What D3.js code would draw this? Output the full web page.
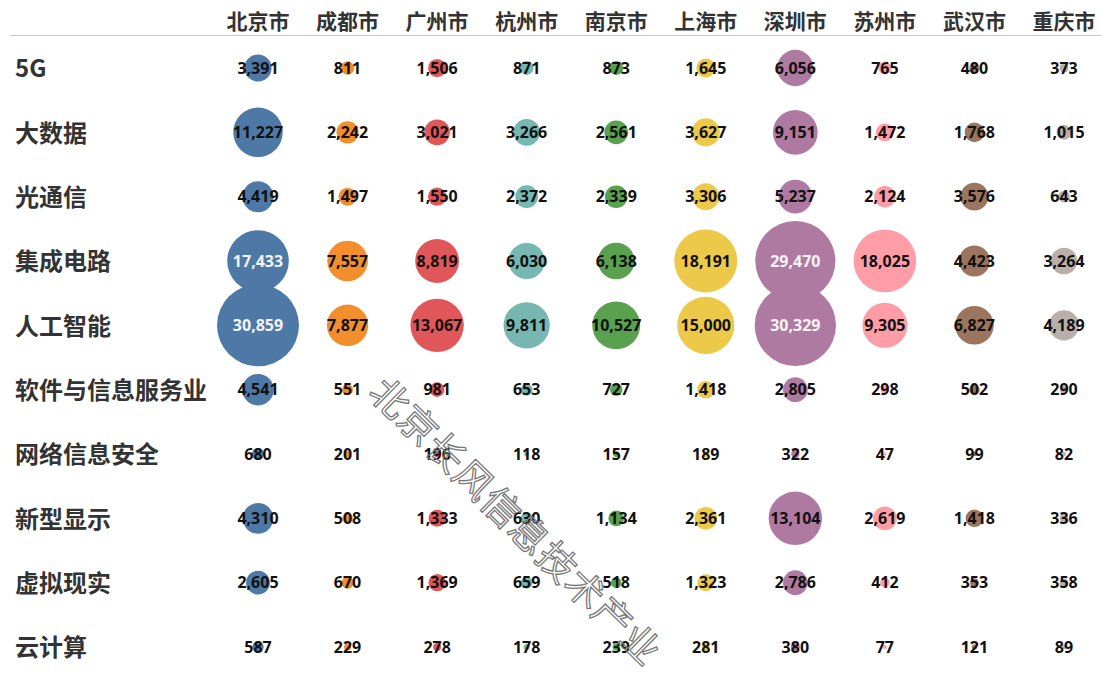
<!DOCTYPE html>
<html>
<head>
<meta charset="utf-8">
<script src="https://cdn.jsdelivr.net/npm/d3@7"></script>
<style>
  body { margin: 0; background: #fff; }
  svg { display: block; }
</style>
</head>
<body>
<div id="chart"></div>
<script>
// cities (columns) and industries (rows)
const cities = ["北京市", "成都市", "广州市", "杭州市", "南京市", "上海市", "深圳市", "苏州市", "武汉市", "重庆市"];
const industries = ["5G", "大数据", "光通信", "集成电路", "人工智能", "软件与信息服务业", "网络信息安全", "新型显示", "虚拟现实", "云计算"];

// one array per city, values in industry order
const beijing   = [3391, 11227, 4419, 17433, 30859, 4541, 680, 4310, 2605, 587];
const chengdu   = [811, 2242, 1497, 7557, 7877, 551, 201, 508, 670, 229];
const guangzhou = [1506, 3021, 1550, 8819, 13067, 981, 196, 1333, 1369, 278];
const hangzhou  = [871, 3266, 2372, 6030, 9811, 653, 118, 630, 659, 178];
const nanjing   = [873, 2561, 2339, 6138, 10527, 727, 157, 1134, 518, 239];
const shanghai  = [1645, 3627, 3306, 18191, 15000, 1418, 189, 2361, 1323, 281];
const shenzhen  = [6056, 9151, 5237, 29470, 30329, 2805, 322, 13104, 2786, 380];
const suzhou    = [765, 1472, 2124, 18025, 9305, 298, 47, 2619, 412, 77];
const wuhan     = [480, 1768, 3576, 4423, 6827, 502, 99, 1418, 353, 121];
const chongqing = [373, 1015, 643, 3264, 4189, 290, 82, 336, 358, 89];

const watermark = "北京长风信息技术产业";

const series = [beijing, chengdu, guangzhou, hangzhou, nanjing, shanghai, shenzhen, suzhou, wuhan, chongqing];

const cells = [];
cities.forEach(function(c, i) {
    industries.forEach(function(ind, j) {
        cells.push({city: c, industry: ind, value: series[i][j]});
    });
});

const totalWidth = 1102,
    totalHeight = 677;

const svg = d3.select("#chart").append("svg")
    .attr("width", totalWidth)
    .attr("height", totalHeight);

const xScale = d3.scalePoint().domain(cities).range([258, 1064]);
const yScale = d3.scalePoint().domain(industries).range([68, 647]);

const maxVal = d3.max(cells, d => d.value);
const rScale = d3.scaleSqrt().domain([0, maxVal]).range([0, 41]);

const color = d3.scaleOrdinal().domain(cities).range(d3.schemeTableau10);

const cjk = "'Noto Sans CJK SC', 'Noto Sans', sans-serif";

// header line
svg.append("line")
    .attr("x1", 10).attr("x2", totalWidth)
    .attr("y1", 35.5).attr("y2", 35.5)
    .attr("stroke", "#c8c8c8")
    .attr("stroke-width", 1);

// column headers
svg.append("g").selectAll("text")
    .data(cities)
    .join("text")
    .attr("x", d => xScale(d))
    .attr("y", 22)
    .attr("dy", "0.35em")
    .attr("text-anchor", "middle")
    .attr("font-family", cjk)
    .attr("font-weight", 700)
    .attr("font-size", 21)
    .attr("fill", "#333")
    .text(d => d);

// row labels
svg.append("g").selectAll("text")
    .data(industries)
    .join("text")
    .attr("x", 15)
    .attr("y", d => yScale(d) + 1)
    .attr("dy", "0.35em")
    .attr("font-family", cjk)
    .attr("font-weight", 700)
    .attr("font-size", 24)
    .attr("fill", "#333")
    .text(d => d);

// bubbles
svg.append("g").selectAll("circle")
    .data(cells)
    .join("circle")
    .attr("cx", d => xScale(d.city))
    .attr("cy", d => yScale(d.industry))
    .attr("r", d => rScale(d.value))
    .attr("fill", d => color(d.city));

// value labels
const fmt = d3.format(",");
svg.append("g").selectAll("text")
    .data(cells)
    .join("text")
    .attr("x", d => xScale(d.city))
    .attr("y", d => yScale(d.industry))
    .attr("dy", "0.36em")
    .attr("text-anchor", "middle")
    .attr("font-family", "'Noto Sans', 'Open Sans', sans-serif")
    .attr("font-weight", 700)
    .attr("font-size", 16)
    .attr("fill", d => (d.value > 15000 && d3.hsl(color(d.city)).l < 0.6) ? "#f4f4f4" : "#111")
    .text(d => fmt(d.value));

// watermark
svg.append("text")
    .attr("transform", "translate(390,398) rotate(44.5)")
    .attr("x", -19)
    .attr("dy", "0.36em")
    .attr("font-family", cjk)
    .attr("font-size", 38)
    .attr("letter-spacing", 1)
    .attr("fill", "none")
    .attr("stroke", "#7a7a7a")
    .attr("stroke-width", 1.3)
    .text(watermark);
</script>
</body>
</html>
